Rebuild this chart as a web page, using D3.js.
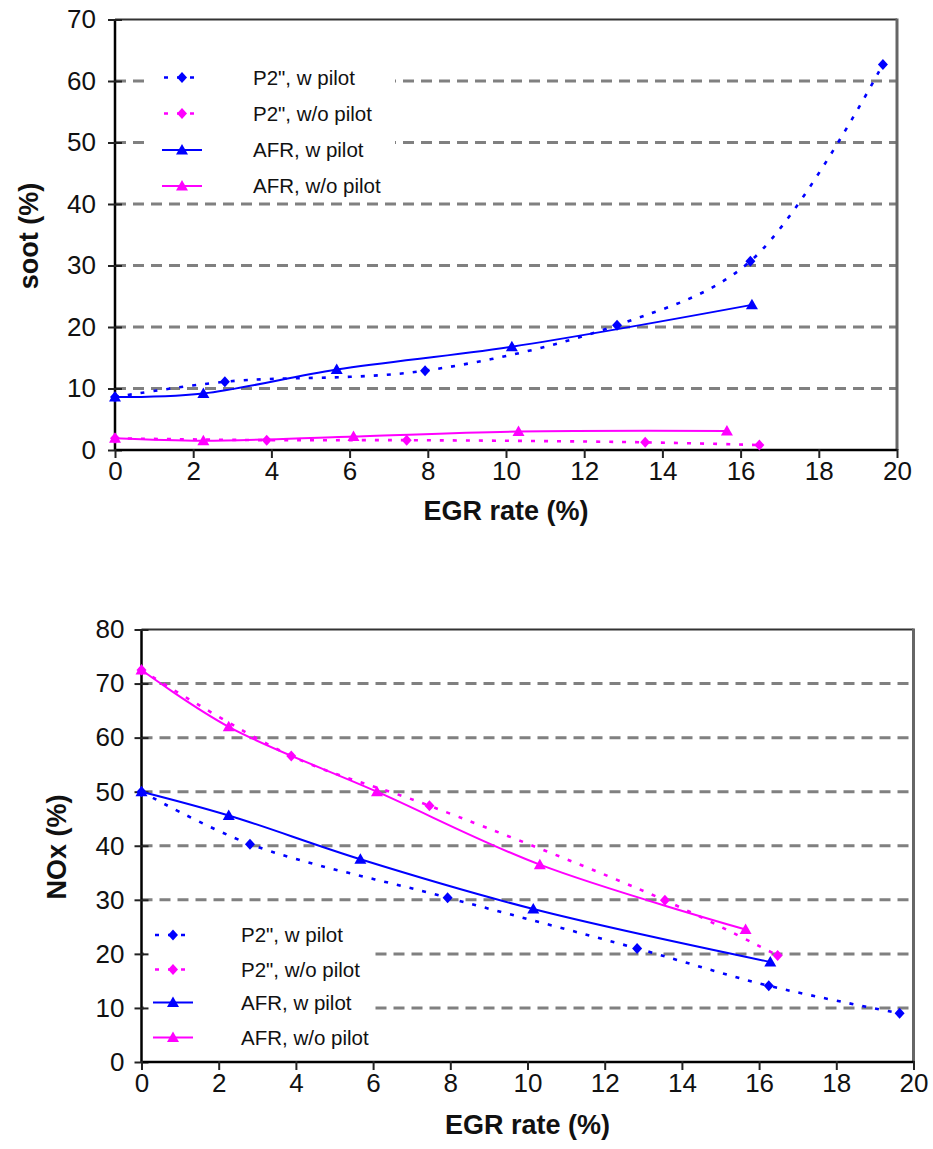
<!DOCTYPE html>
<html>
<head>
<meta charset="utf-8">
<script src="https://cdn.jsdelivr.net/npm/d3@7"></script>
<style>
  html, body { margin: 0; padding: 0; background: #fff; }
  svg { display: block; font-family: "Liberation Sans", Arial, sans-serif; }
</style>
</head>
<body>
<svg id="chart" width="933" height="1149"></svg>
<script>
// EGR rates of each operating strategy
const egrP2Pilot   = [0, 2.81, 7.93, 12.84, 16.25, 19.64];
const egrP2NoPilot = [0, 3.88, 7.46, 13.56, 16.48];
const egrAfrPilot  = [0, 2.26, 5.67, 10.15, 16.29];
const egrAfrNoPilot = [0, 2.26, 6.1, 10.32, 15.65];

// soot (%)
const sootP2Pilot    = [8.6, 11.1, 12.9, 20.3, 30.7, 62.7];
const sootP2NoPilot  = [1.9, 1.6, 1.6, 1.25, 0.8];
const sootAfrPilot   = [8.6, 9.2, 13.1, 16.8, 23.6];
const sootAfrNoPilot = [1.9, 1.5, 2.2, 3.0, 3.1];

// NOx (%)
const noxP2Pilot    = [50, 40.3, 30.4, 21.0, 14.1, 9.0];
const noxP2NoPilot  = [72.5, 56.6, 47.4, 29.9, 19.7];
const noxAfrPilot   = [50, 45.6, 37.5, 28.3, 18.5];
const noxAfrNoPilot = [72.5, 62.0, 50.0, 36.5, 24.5];

const seriesNames = ['P2", w pilot', 'P2", w/o pilot', 'AFR, w pilot', 'AFR, w/o pilot'];
const xTicks = [0, 2, 4, 6, 8, 10, 12, 14, 16, 18, 20];
const sootTicks = [0, 10, 20, 30, 40, 50, 60, 70];
const noxTicks = [0, 10, 20, 30, 40, 50, 60, 70, 80];

const BLUE = "#0000ff", MAGENTA = "#ff00ff";
const styles = [
  { color: BLUE, marker: "diamond", dotted: true },
  { color: MAGENTA, marker: "diamond", dotted: true },
  { color: BLUE, marker: "triangle", dotted: false },
  { color: MAGENTA, marker: "triangle", dotted: false }
];

const svg = d3.select("#chart");
svg.append("rect").attr("width", 933).attr("height", 1149).attr("fill", "#fff");

function markerPath(type) {
  return type === "diamond"
    ? "M0,-5.5L5,0L0,5.5L-5,0Z"
    : "M0,-6L6,4.5L-6,4.5Z";
}

function drawPanel(cfg) {
  const g = svg.append("g");
  const x = d3.scaleLinear().domain([0, 20]).range([cfg.left, cfg.right]);
  const y = d3.scaleLinear().domain([0, cfg.yMax]).range([cfg.bottom, cfg.top]);

  // dashed grid
  g.append("g").selectAll("line")
    .data(cfg.yTicks.filter(t => t > 0 && t < cfg.yMax))
    .join("line")
    .attr("x1", cfg.left).attr("x2", cfg.right)
    .attr("y1", d => y(d)).attr("y2", d => y(d))
    .attr("stroke", "#808080").attr("stroke-width", 3)
    .attr("stroke-dasharray", "11,7");

  // frame top & right
  g.append("line").attr("x1", cfg.left).attr("x2", cfg.right)
    .attr("y1", cfg.top).attr("y2", cfg.top)
    .attr("stroke", "#333").attr("stroke-width", 2);
  g.append("line").attr("x1", cfg.right).attr("x2", cfg.right)
    .attr("y1", cfg.top - 1).attr("y2", cfg.bottom)
    .attr("stroke", "#666").attr("stroke-width", 3);

  // legend background
  g.append("rect")
    .attr("x", cfg.legend.x0).attr("y", cfg.legend.y0)
    .attr("width", cfg.legend.x1 - cfg.legend.x0)
    .attr("height", cfg.legend.y1 - cfg.legend.y0)
    .attr("fill", "#fff");

  // axes
  const yAxis = d3.axisLeft(y).tickValues(cfg.yTicks).tickSize(7).tickPadding(cfg.yPad)
    .tickFormat(d3.format("d"));
  const xAxis = d3.axisBottom(x).tickValues(xTicks).tickSize(7).tickPadding(6)
    .tickFormat(d3.format("d"));

  const ya = g.append("g").attr("transform", `translate(${cfg.left},0)`).call(yAxis);
  const xa = g.append("g").attr("transform", `translate(0,${cfg.bottom})`).call(xAxis);
  [ya, xa].forEach(a => {
    a.select(".domain").attr("stroke", "#000").attr("stroke-width", 2.5);
    a.selectAll(".tick line").attr("stroke", "#222").attr("stroke-width", 2);
    a.selectAll(".tick text").attr("font-size", 26).attr("fill", "#111")
      .attr("font-family", "Liberation Sans, Arial, sans-serif");
  });
  ya.select(".domain").attr("d", `M0,${cfg.bottom}V${cfg.top}`);
  xa.select(".domain").attr("d", `M${cfg.left},0H${cfg.right}`);
  ya.selectAll(".tick line").attr("x1", 7).attr("x2", -7);
  xa.selectAll(".tick line").attr("y1", -1).attr("y2", 8);
  xa.selectAll(".tick text").attr("dy", "0.71em").attr("y", 12);

  // axis titles
  g.append("text").attr("x", (cfg.left + cfg.right) / 2).attr("y", cfg.xTitleY)
    .attr("text-anchor", "middle").attr("font-size", 27).attr("font-weight", "bold")
    .attr("fill", "#111").text("EGR rate (%)");
  g.append("text")
    .attr("transform", `translate(${cfg.yTitleX},${cfg.yTitleY}) rotate(-90)`)
    .attr("text-anchor", "middle").attr("font-size", 27).attr("font-weight", "bold")
    .attr("fill", "#111").text(cfg.yTitle);

  // data series
  const line = d3.line().x(d => x(d[0])).y(d => y(d[1]))
    .curve(d3.curveCatmullRom.alpha(0.5));
  cfg.series.forEach((s, i) => {
    const st = styles[i];
    const pts = s.xs.map((v, k) => [v, s.ys[k]]);
    g.append("path").datum(pts).attr("d", line)
      .attr("fill", "none").attr("stroke", st.color)
      .attr("stroke-width", st.dotted ? 2.6 : 2)
      .attr("stroke-dasharray", st.dotted ? "4,9" : null);
    g.append("g").selectAll("path").data(pts).join("path")
      .attr("transform", d => `translate(${x(d[0])},${y(d[1])})`)
      .attr("d", markerPath(st.marker)).attr("fill", st.color);
  });

  // legend entries
  const L = cfg.legend;
  seriesNames.forEach((name, i) => {
    const st = styles[i];
    const ly = L.rows[i];
    g.append("line").attr("x1", L.sx0).attr("x2", L.sx1).attr("y1", ly).attr("y2", ly)
      .attr("stroke", st.color).attr("stroke-width", st.dotted ? 2.6 : 2)
      .attr("stroke-dasharray", st.dotted ? "4,9" : null)
      .attr("stroke-dashoffset", st.dotted ? -2 : null);
    g.append("path").attr("transform", `translate(${(L.sx0 + L.sx1) / 2},${ly})`)
      .attr("d", markerPath(st.marker)).attr("fill", st.color);
    g.append("text").attr("x", L.tx).attr("y", ly).attr("dy", "0.36em")
      .attr("font-size", 20.5).attr("fill", "#111").text(name);
  });
}

drawPanel({
  left: 115, right: 897, top: 19.5, bottom: 450, yMax: 70, yTicks: sootTicks, yPad: 12,
  xTitleY: 520, yTitle: "soot (%)", yTitleX: 38, yTitleY: 236,
  legend: { x0: 148, x1: 395, y0: 60, y1: 198, rows: [77.5, 113.5, 150, 186], sx0: 162, sx1: 202, tx: 253 },
  series: [
    { xs: egrP2Pilot, ys: sootP2Pilot },
    { xs: egrP2NoPilot, ys: sootP2NoPilot },
    { xs: egrAfrPilot, ys: sootAfrPilot },
    { xs: egrAfrNoPilot, ys: sootAfrNoPilot }
  ]
});

drawPanel({
  left: 141.5, right: 913.5, top: 629.5, bottom: 1062, yMax: 80, yTicks: noxTicks, yPad: 10,
  xTitleY: 1134, yTitle: "NOx (%)", yTitleX: 66, yTitleY: 847,
  legend: { x0: 144, x1: 370, y0: 918, y1: 1056, rows: [935, 969.5, 1002.5, 1037.5], sx0: 153, sx1: 193, tx: 241 },
  series: [
    { xs: egrP2Pilot, ys: noxP2Pilot },
    { xs: egrP2NoPilot, ys: noxP2NoPilot },
    { xs: egrAfrPilot, ys: noxAfrPilot },
    { xs: egrAfrNoPilot, ys: noxAfrNoPilot }
  ]
});
</script>
</body>
</html>
